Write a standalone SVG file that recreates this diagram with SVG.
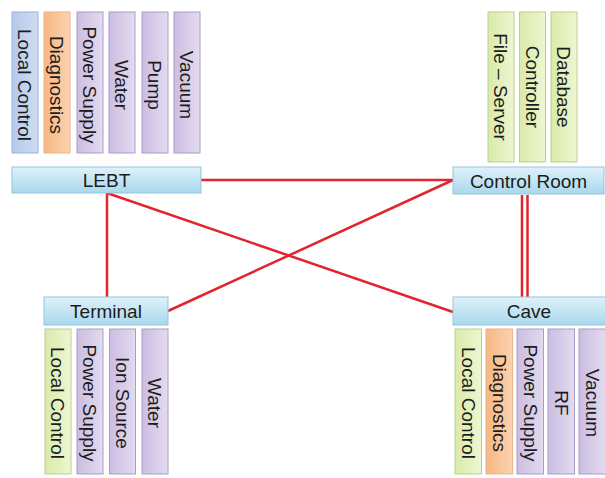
<svg xmlns="http://www.w3.org/2000/svg" width="605" height="478" viewBox="0 0 605 478">
<defs>
<linearGradient id="gBox" x1="0" y1="0" x2="0" y2="1"><stop offset="0" stop-color="#dff2fa"/><stop offset="1" stop-color="#a8d8ec"/></linearGradient>
<linearGradient id="gBlue" x1="0" y1="0" x2="1" y2="0"><stop offset="0" stop-color="#b4c9ec"/><stop offset="1" stop-color="#cfdcf3"/></linearGradient>
<linearGradient id="gOrange" x1="0" y1="0" x2="1" y2="0"><stop offset="0" stop-color="#f7b781"/><stop offset="1" stop-color="#fbd3b0"/></linearGradient>
<linearGradient id="gPurple" x1="0" y1="0" x2="1" y2="0"><stop offset="0" stop-color="#cbbde2"/><stop offset="1" stop-color="#e3dbef"/></linearGradient>
<linearGradient id="gGreen" x1="0" y1="0" x2="1" y2="0"><stop offset="0" stop-color="#d9eaaa"/><stop offset="1" stop-color="#eef6d2"/></linearGradient>
</defs>
<style>
text{font-family:"Liberation Sans",Arial,sans-serif;font-size:19px;fill:#1c1c1c;text-anchor:middle}
.box{fill:url(#gBox);stroke:#93c6dc;stroke-width:1}
.blue{fill:url(#gBlue);stroke:#9bb0d4;stroke-width:1}
.orange{fill:url(#gOrange);stroke:#e8b48a;stroke-width:1}
.purple{fill:url(#gPurple);stroke:#aa9cc8;stroke-width:1}
.green{fill:url(#gGreen);stroke:#bcd08e;stroke-width:1}
.link{stroke:#e0252d;stroke-width:2.5;fill:none}
</style>
<rect width="605" height="478" fill="#ffffff"/>

<g id="connectors">
<line class="link" x1="201" y1="180" x2="453" y2="180"/>
<line class="link" x1="453" y1="180" x2="168" y2="311"/>
<line class="link" x1="107" y1="193" x2="107" y2="297"/>
<line class="link" x1="107" y1="193" x2="453" y2="312"/>
<line class="link" x1="522" y1="195" x2="522" y2="297" stroke-width="2"/>
<line class="link" x1="527.5" y1="195" x2="527.5" y2="297" stroke-width="2"/>
</g>

<g id="lebt-items">
<g id="lebt-local-control"><rect class="blue" x="12" y="12" width="26" height="141"/><text transform="translate(25,85) rotate(90)" dy="0.35em">Local Control</text></g>
<g id="lebt-diagnostics"><rect class="orange" x="44" y="12" width="26" height="141"/><text transform="translate(57,85) rotate(90)" dy="0.35em">Diagnostics</text></g>
<g id="lebt-power-supply"><rect class="purple" x="77" y="12" width="26" height="141"/><text transform="translate(90,85) rotate(90)" dy="0.35em">Power Supply</text></g>
<g id="lebt-water"><rect class="purple" x="109" y="12" width="26" height="141"/><text transform="translate(122,85) rotate(90)" dy="0.35em">Water</text></g>
<g id="lebt-pump"><rect class="purple" x="142" y="12" width="26" height="141"/><text transform="translate(155,85) rotate(90)" dy="0.35em">Pump</text></g>
<g id="lebt-vacuum"><rect class="purple" x="174" y="12" width="26" height="141"/><text transform="translate(187,85) rotate(90)" dy="0.35em">Vacuum</text></g>
</g>

<g id="control-items">
<g id="cr-file-server"><rect class="green" x="488" y="12" width="26" height="150"/><text transform="translate(501,87) rotate(90)" dy="0.35em">File – Server</text></g>
<g id="cr-controller"><rect class="green" x="519.5" y="12" width="26" height="150"/><text transform="translate(532.5,87) rotate(90)" dy="0.35em">Controller</text></g>
<g id="cr-database"><rect class="green" x="551" y="12" width="26" height="150"/><text transform="translate(564,87) rotate(90)" dy="0.35em">Database</text></g>
</g>

<g id="terminal-items">
<g id="t-local-control"><rect class="green" x="45" y="329" width="26" height="145"/><text transform="translate(58,403) rotate(90)" dy="0.35em">Local Control</text></g>
<g id="t-power-supply"><rect class="purple" x="77" y="329" width="26" height="145"/><text transform="translate(90,403) rotate(90)" dy="0.35em">Power Supply</text></g>
<g id="t-ion-source"><rect class="purple" x="109.5" y="329" width="26" height="145"/><text transform="translate(122.5,403) rotate(90)" dy="0.35em">Ion Source</text></g>
<g id="t-water"><rect class="purple" x="142" y="329" width="26" height="145"/><text transform="translate(155,403) rotate(90)" dy="0.35em">Water</text></g>
</g>

<g id="cave-items">
<g id="c-local-control"><rect class="green" x="455" y="329" width="26.5" height="145"/><text transform="translate(468.2,403) rotate(90)" dy="0.35em">Local Control</text></g>
<g id="c-diagnostics"><rect class="orange" x="486" y="329" width="26.5" height="145"/><text transform="translate(499.2,403) rotate(90)" dy="0.35em">Diagnostics</text></g>
<g id="c-power-supply"><rect class="purple" x="517" y="329" width="26.5" height="145"/><text transform="translate(530.2,403) rotate(90)" dy="0.35em">Power Supply</text></g>
<g id="c-rf"><rect class="purple" x="548" y="329" width="26.5" height="145"/><text transform="translate(561.2,403) rotate(90)" dy="0.35em">RF</text></g>
<g id="c-vacuum"><rect class="purple" x="579" y="329" width="26.5" height="145"/><text transform="translate(592.2,403) rotate(90)" dy="0.35em">Vacuum</text></g>
</g>

<g id="lebt"><rect class="box" x="12" y="167" width="189" height="26"/><text x="106.5" y="187">LEBT</text></g>
<g id="control-room"><rect class="box" x="453" y="167" width="151" height="27"/><text x="528.5" y="187.5">Control Room</text></g>
<g id="terminal"><rect class="box" x="44" y="297" width="124" height="28"/><text x="106" y="318">Terminal</text></g>
<g id="cave"><rect class="box" x="453" y="297" width="153" height="28"/><text x="529" y="318">Cave</text></g>
</svg>
